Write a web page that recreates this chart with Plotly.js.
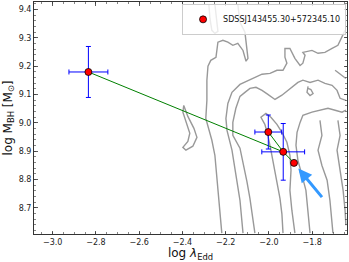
<!DOCTYPE html>
<html>
<head>
<meta charset="utf-8">
<script src="https://cdn.plot.ly/plotly-3.0.1.min.js"></script>
<style>html,body{margin:0;padding:0;background:#fff;}#chart{width:349px;height:262px;}</style>
</head>
<body>
<div id="chart"></div>
<script>
// ---- data: object and its measurements ----
const objectName = "SDSSJ143455.30+572345.10";
const logEdd   = [-2.835, -2.003, -1.934, -1.884];
const logMbh   = [9.180, 8.968, 8.898, 8.859];
const errEdd   = [0.090, 0.062, 0.099, 0];
const errMbh   = [0.090, 0.060, 0.100, 0];
// green connector segments (indices into the points)
const segments = [[0, 2, 3], [1, 2]];
// arrow tail and head (log Edd, log Mbh)
const arrowTail = [-1.749, 8.733];
const arrowHead = [-1.864, 8.839];
// tick labels
const xTicks = [-3.0, -2.8, -2.6, -2.4, -2.2, -2.0, -1.8];
const xTickLabels = ["\u22123.0", "\u22122.8", "\u22122.6", "\u22122.4", "\u22122.2", "\u22122.0", "\u22121.8"];
const yTicks = [8.7, 8.8, 8.9, 9.0, 9.1, 9.2, 9.3, 9.4];
const yTickLabels = ["8.7", "8.8", "8.9", "9.0", "9.1", "9.2", "9.3", "9.4"];

// ---- background density contours ----
const c1X = [-2.278, -2.273, -2.264, -2.250, -2.236, -2.241, -2.250];
const c1Y = [9.419, 9.369, 9.327, 9.316, 9.323, 9.362, 9.419];
const c2X = [-2.144, -2.134, -2.111, -2.106, -2.102, -2.097, -2.106, -2.120, -2.144, -2.167, -2.190, -2.213, -2.236, -2.241, -2.245, -2.269, -2.282, -2.287, -2.287, -2.292, -2.278, -2.264, -2.250, -2.241, -2.231, -2.218];
const c2Y = [9.419, 9.355, 9.320, 9.292, 9.263, 9.228, 9.218, 9.256, 9.281, 9.274, 9.285, 9.292, 9.285, 9.256, 9.232, 9.221, 9.200, 9.151, 9.080, 9.016, 8.974, 8.939, 8.886, 8.815, 8.727, 8.611];
const c3X = [-2.394, -2.375, -2.347, -2.333, -2.352, -2.384, -2.398, -2.375, -2.366, -2.384, -2.398, -2.394];
const c3Y = [9.062, 9.023, 8.981, 8.949, 8.918, 8.904, 8.914, 8.935, 8.964, 9.002, 9.038, 9.062];
const c4X = [-2.065, -2.074, -2.088, -2.102, -2.120, -2.134, -2.167, -2.167, -2.153, -2.134, -2.111, -2.088, -2.060, -2.032, -2.005, -1.972, -1.940, -1.903, -1.866, -1.843, -1.810, -1.773, -1.741, -1.708, -1.685, -1.671, -1.644];
const c4Y = [8.611, 8.664, 8.734, 8.794, 8.854, 8.911, 8.956, 9.002, 9.052, 9.094, 9.108, 9.122, 9.126, 9.115, 9.101, 9.083, 9.098, 9.122, 9.143, 9.151, 9.143, 9.151, 9.140, 9.133, 9.115, 9.087, 9.080];
const c5X = [-1.648, -1.662, -1.681, -1.708, -1.741, -1.773, -1.801, -1.843, -1.833, -1.843, -1.856, -1.880, -1.903, -1.926, -1.926, -1.917, -1.935, -1.963, -1.995, -2.032, -2.065, -2.097, -2.134, -2.171, -2.190, -2.199, -2.194, -2.171, -2.153, -2.134, -2.120];
const c5Y = [9.327, 9.302, 9.274, 9.263, 9.249, 9.246, 9.256, 9.249, 9.239, 9.211, 9.203, 9.228, 9.263, 9.263, 9.232, 9.211, 9.186, 9.186, 9.175, 9.172, 9.161, 9.151, 9.136, 9.108, 9.069, 9.016, 8.974, 8.904, 8.815, 8.727, 8.611];
const c6X = [-1.810, -1.819, -1.829, -1.847, -1.866, -1.875, -1.870, -1.856, -1.843, -1.801, -1.764, -1.727, -1.694, -1.662, -1.644];
const c6Y = [8.611, 8.692, 8.762, 8.815, 8.868, 8.921, 8.967, 9.002, 9.027, 9.038, 9.045, 9.052, 9.045, 9.038, 9.045];
const c7X = [-1.935, -1.940, -1.949, -1.963, -1.977, -1.991, -2.005, -2.019, -2.037, -2.014, -1.991, -1.963, -1.940, -1.917, -1.903, -1.898, -1.903, -1.894, -1.880];
const c7Y = [8.611, 8.678, 8.734, 8.794, 8.850, 8.904, 8.956, 8.995, 9.020, 9.034, 9.020, 8.995, 8.967, 8.932, 8.886, 8.833, 8.762, 8.692, 8.611];
const c8X = [-1.764, -1.755, -1.773, -1.755, -1.731, -1.718, -1.704];
const c8Y = [9.009, 8.956, 8.904, 8.850, 8.798, 8.727, 8.611];
const c9X = [-1.681, -1.671, -1.685, -1.671, -1.657, -1.648, -1.644];
const c9Y = [9.009, 8.956, 8.904, 8.833, 8.762, 8.692, 8.639];
const c10X = [-1.694, -1.662, -1.644];
const c10Y = [9.186, 9.168, 9.157];
const c11X = [-1.819, -1.824, -1.810, -1.796, -1.806, -1.819];
const c11Y = [9.129, 9.108, 9.097, 9.104, 9.118, 9.122];

const contours = [[c1X,c1Y],[c2X,c2Y],[c3X,c3Y],[c4X,c4Y],[c5X,c5Y],[c6X,c6Y],[c7X,c7Y],[c8X,c8Y],[c9X,c9Y],[c10X,c10Y],[c11X,c11Y]];

const FONT = "DejaVu Sans, Liberation Sans, sans-serif";
const traces = [];
contours.forEach(c => traces.push({
  x: c[0], y: c[1], type: "scatter", mode: "lines",
  line: {color: "#999999", width: 1.4},
  hoverinfo: "skip", showlegend: false
}));

// green connectors
const segX = [], segY = [];
segments.forEach((s, k) => {
  if (k > 0) { segX.push(null); segY.push(null); }
  s.forEach(i => { segX.push(logEdd[i]); segY.push(logMbh[i]); });
});
traces.push({x: segX, y: segY, type: "scatter", mode: "lines",
  line: {color: "#008000", width: 1}, showlegend: false, hoverinfo: "skip"});

// points with error bars
traces.push({
  x: logEdd, y: logMbh, type: "scatter", mode: "markers", name: objectName,
  marker: {color: "#ff0000", size: 7, line: {color: "#000000", width: 0.8}},
  error_x: {type: "data", array: errEdd, color: "#0000ff", thickness: 1, width: 2.5},
  error_y: {type: "data", array: errMbh, color: "#0000ff", thickness: 1, width: 2.5},
  showlegend: true
});

const axisCommon = {
  showgrid: false, zeroline: false, showline: true, linecolor: "#333", linewidth: 1,
  mirror: "allticks", ticks: "inside", ticklen: 3.5, tickwidth: 0.8, tickcolor: "#333",
  tickfont: {family: FONT, size: 8, color: "#222"}
};

const layout = {
  width: 349, height: 262,
  margin: {l: 34.3, r: 2, t: 1.7, b: 28.3, pad: 0},
  paper_bgcolor: "#ffffff", plot_bgcolor: "#ffffff",
  showlegend: true,
  legend: {x: 0.997, xanchor: "right", y: 0.992, yanchor: "top",
    bgcolor: "rgba(255,255,255,0.8)", bordercolor: "#cccccc", borderwidth: 1,
    font: {family: FONT, size: 8, color: "#111"}, itemwidth: 30, tracegroupgap: 0},
  xaxis: Object.assign({}, axisCommon, {
    range: [-3.0866, -1.639], tickvals: xTicks, ticktext: xTickLabels,
    minor: {dtick: 0.05, ticks: "inside", ticklen: 2, tickwidth: 0.6, tickcolor: "#333"},
    title: {text: "log <i>λ</i><sub>Edd</sub>", font: {family: FONT, size: 12, color: "#111"}, standoff: 4}
  }),
  yaxis: Object.assign({}, axisCommon, {
    range: [8.608, 9.427], tickvals: yTicks, ticktext: yTickLabels,
    minor: {dtick: 0.02, ticks: "inside", ticklen: 2, tickwidth: 0.6, tickcolor: "#333"},
    title: {text: "log M<sub>BH</sub> [M<sub>⊙</sub>]", font: {family: FONT, size: 12, color: "#111"}, standoff: 3}
  }),
  annotations: [{
    x: arrowHead[0], y: arrowHead[1], ax: arrowTail[0], ay: arrowTail[1],
    xref: "x", yref: "y", axref: "x", ayref: "y",
    text: "", showarrow: true, arrowhead: 2, arrowsize: 0.9, arrowwidth: 3,
    arrowcolor: "#3399ff", standoff: 0
  }]
};

Plotly.newPlot("chart", traces, layout, {displayModeBar: false, staticPlot: true});
</script>
</body>
</html>
